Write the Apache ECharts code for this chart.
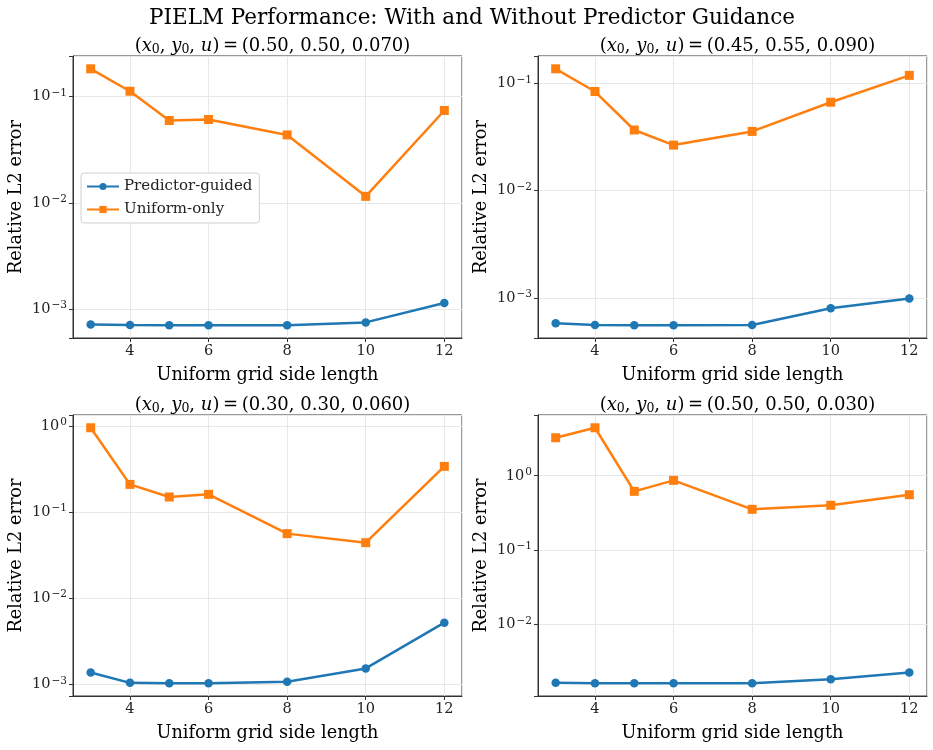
<!DOCTYPE html>
<html>
<head>
<meta charset="utf-8">
<script src="https://cdn.jsdelivr.net/npm/echarts@6/dist/echarts.min.js"></script>
<style>
  html, body { margin: 0; padding: 0; background: #fff; }
  #chart { width: 933px; height: 750px; }
</style>
</head>
<body>
<div id="chart"></div>
<script>
// grid side lengths on the x axis
const gridSizes = [3, 4, 5, 6, 8, 10, 12]

// panel parameters (x0, y0, u)
const panelParams = ['0.50, 0.50, 0.070', '0.45, 0.55, 0.090', '0.30, 0.30, 0.060', '0.50, 0.50, 0.030']

// relative L2 error, predictor-guided
const guided1 = [7.17e-4, 7.1e-4, 7.06e-4, 7.06e-4, 7.06e-4, 7.5e-4, 1.14e-3]
const guided2 = [5.8e-4, 5.58e-4, 5.55e-4, 5.55e-4, 5.57e-4, 8.0e-4, 9.86e-4]
const guided3 = [1.37e-3, 1.04e-3, 1.03e-3, 1.03e-3, 1.07e-3, 1.53e-3, 5.2e-3]
const guided4 = [1.65e-3, 1.63e-3, 1.63e-3, 1.63e-3, 1.63e-3, 1.85e-3, 2.27e-3]

// relative L2 error, uniform-only
const uniform1 = [0.182, 0.112, 0.0594, 0.0607, 0.0435, 0.0115, 0.0738]
const uniform2 = [0.137, 0.0841, 0.0368, 0.0266, 0.0357, 0.0668, 0.119]
const uniform3 = [0.955, 0.21, 0.15, 0.161, 0.0563, 0.0442, 0.34]
const uniform4 = [3.24, 4.41, 0.617, 0.867, 0.354, 0.401, 0.556]

const guided = [guided1, guided2, guided3, guided4]
const uniform = [uniform1, uniform2, uniform3, uniform4]

const FONT = 'DejaVu Serif'
const BLUE = '#1f77b4'
const ORANGE = '#ff7f0e'

const gridBoxes = [
  { left: 73, top: 56, width: 389, height: 282 },
  { left: 538, top: 56, width: 389, height: 282 },
  { left: 73, top: 415, width: 389, height: 281 },
  { left: 538, top: 415, width: 389, height: 281 }
]

// only label the decades, as 10^e
function powLabel(v) {
  const lg = Math.log10(v)
  const e = Math.round(lg)
  if (Math.abs(lg - e) > 1e-6) return ''
  return '{b|10}{e|' + String(e).replace('-', '\u2212') + '}'
}

const chart = echarts.init(document.getElementById('chart'))

const xPad = (gridSizes[gridSizes.length - 1] - gridSizes[0]) * 0.05

const titles = [{
  text: 'PIELM Performance: With and Without Predictor Guidance',
  left: 467, top: 2, textAlign: 'center',
  textStyle: { fontFamily: FONT, fontSize: 21.5, fontWeight: 'normal', color: '#000' }
}]

const xAxes = [], yAxes = [], series = []

gridBoxes.forEach((g, i) => {
  titles.push({
    text: '({i|x}{s|0}, {i|y}{s|0}, {i|u})\u2009=\u2009(' + panelParams[i] + ')',
    left: g.left + g.width / 2, top: g.top - 24, textAlign: 'center',
    textStyle: {
      fontFamily: FONT, fontSize: 18, fontWeight: 'normal', color: '#000',
      rich: {
        i: { fontFamily: FONT, fontSize: 18, fontStyle: 'italic', color: '#000' },
        s: { fontFamily: FONT, fontSize: 12.5, color: '#000', verticalAlign: 'bottom', padding: [6, 0, 0, 0] }
      }
    }
  })

  const logs = guided[i].concat(uniform[i]).map(v => Math.log10(v))
  const lo = Math.min(...logs), hi = Math.max(...logs)
  const pad = (hi - lo) * 0.05

  xAxes.push({
    type: 'value', gridIndex: i,
    min: gridSizes[0] - xPad, max: gridSizes[gridSizes.length - 1] + xPad,
    splitNumber: 5,
    name: 'Uniform grid side length', nameLocation: 'middle', nameGap: 28,
    nameTextStyle: { fontFamily: FONT, fontSize: 17.7, color: '#000' },
    axisLine: { show: true, onZero: false, lineStyle: { color: '#333', width: 1 } },
    axisTick: { show: true, length: 4, lineStyle: { color: '#333' } },
    axisLabel: { fontFamily: FONT, fontSize: 14.5, color: '#222', margin: 6, showMinLabel: false, showMaxLabel: false },
    splitLine: { show: true, lineStyle: { color: '#e8e8e8', width: 1 } }
  })
  yAxes.push({
    type: 'log', logBase: 10, gridIndex: i,
    min: Math.pow(10, lo - pad), max: Math.pow(10, hi + pad),
    name: 'Relative L2 error', nameLocation: 'middle', nameGap: 48,
    nameTextStyle: { fontFamily: FONT, fontSize: 17.7, color: '#000' },
    axisLine: { show: true, lineStyle: { color: '#333', width: 1 } },
    axisTick: { show: true, length: 4, lineStyle: { color: '#333' } },
    axisLabel: {
      fontFamily: FONT, fontSize: 14.5, color: '#222', margin: 6, formatter: powLabel,
      rich: {
        b: { fontFamily: FONT, fontSize: 14.5, color: '#222' },
        e: { fontFamily: FONT, fontSize: 10.5, color: '#222', verticalAlign: 'top', padding: [0, 0, 7, 1] }
      }
    },
    splitLine: { show: true, lineStyle: { color: '#e8e8e8', width: 1 } }
  })

  series.push({
    name: 'Predictor-guided', type: 'line', xAxisIndex: i, yAxisIndex: i,
    data: gridSizes.map((x, j) => [x, guided[i][j]]),
    symbol: 'circle', symbolSize: 8.5,
    lineStyle: { color: BLUE, width: 2.5 }, itemStyle: { color: BLUE },
    z: 3
  })
  series.push({
    name: 'Uniform-only', type: 'line', xAxisIndex: i, yAxisIndex: i,
    data: gridSizes.map((x, j) => [x, uniform[i][j]]),
    symbol: 'rect', symbolSize: 9,
    lineStyle: { color: ORANGE, width: 2.5 }, itemStyle: { color: ORANGE },
    z: 3
  })
})

chart.setOption({
  backgroundColor: '#fff',
  animation: false,
  title: titles,
  legend: {
    data: ['Predictor-guided', 'Uniform-only'],
    orient: 'vertical', left: 81, top: 173,
    itemWidth: 32, itemHeight: 9, itemGap: 8,
    backgroundColor: '#fff', borderColor: '#d0d0d0', borderWidth: 1, borderRadius: 3,
    padding: [6, 7, 6, 5],
    textStyle: { fontFamily: FONT, fontSize: 15, color: '#222' }
  },
  grid: gridBoxes.map(g => ({ ...g, show: true, borderColor: '#333', borderWidth: 1, containLabel: false })),
  xAxis: xAxes,
  yAxis: yAxes,
  series: series
})
</script>
</body>
</html>
